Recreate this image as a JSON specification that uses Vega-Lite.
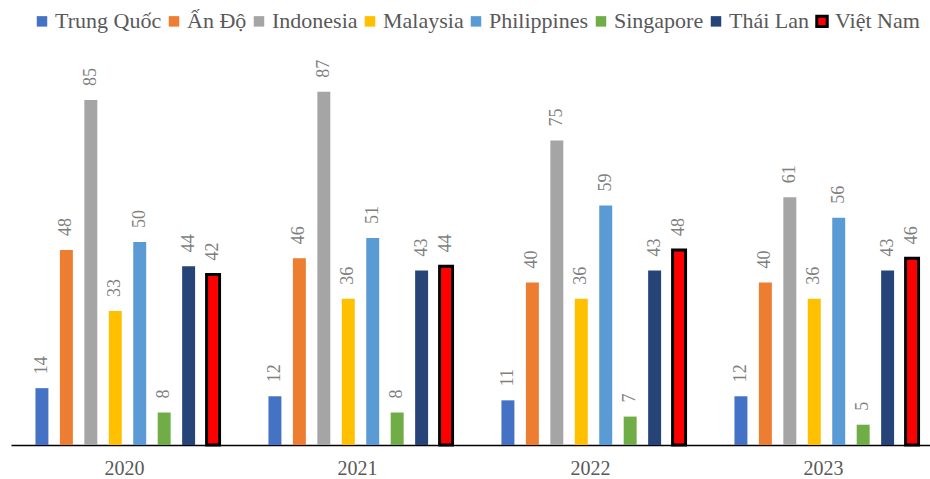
{
  "$schema": "https://vega.github.io/schema/vega-lite/v6.json",
  "autosize": "none",
  "width": 932,
  "height": 406,
  "padding": {"left": 11, "top": 39, "right": 0, "bottom": 34},
  "background": "white",
  "config": {"font": "Liberation Serif", "view": {"stroke": null},
    "text": {"font": "Liberation Serif"},
    "legend": {"labelFont": "Liberation Serif"},
    "axis": {"labelFont": "Liberation Serif"}},
  "data": {"values": [
    {"year": "2020", "country": "Trung Quốc", "value": 14},
    {"year": "2020", "country": "Ấn Độ", "value": 48},
    {"year": "2020", "country": "Indonesia", "value": 85},
    {"year": "2020", "country": "Malaysia", "value": 33},
    {"year": "2020", "country": "Philippines", "value": 50},
    {"year": "2020", "country": "Singapore", "value": 8},
    {"year": "2020", "country": "Thái Lan", "value": 44},
    {"year": "2020", "country": "Việt Nam", "value": 42},
    {"year": "2021", "country": "Trung Quốc", "value": 12},
    {"year": "2021", "country": "Ấn Độ", "value": 46},
    {"year": "2021", "country": "Indonesia", "value": 87},
    {"year": "2021", "country": "Malaysia", "value": 36},
    {"year": "2021", "country": "Philippines", "value": 51},
    {"year": "2021", "country": "Singapore", "value": 8},
    {"year": "2021", "country": "Thái Lan", "value": 43},
    {"year": "2021", "country": "Việt Nam", "value": 44},
    {"year": "2022", "country": "Trung Quốc", "value": 11},
    {"year": "2022", "country": "Ấn Độ", "value": 40},
    {"year": "2022", "country": "Indonesia", "value": 75},
    {"year": "2022", "country": "Malaysia", "value": 36},
    {"year": "2022", "country": "Philippines", "value": 59},
    {"year": "2022", "country": "Singapore", "value": 7},
    {"year": "2022", "country": "Thái Lan", "value": 43},
    {"year": "2022", "country": "Việt Nam", "value": 48},
    {"year": "2023", "country": "Trung Quốc", "value": 12},
    {"year": "2023", "country": "Ấn Độ", "value": 40},
    {"year": "2023", "country": "Indonesia", "value": 61},
    {"year": "2023", "country": "Malaysia", "value": 36},
    {"year": "2023", "country": "Philippines", "value": 56},
    {"year": "2023", "country": "Singapore", "value": 5},
    {"year": "2023", "country": "Thái Lan", "value": 43},
    {"year": "2023", "country": "Việt Nam", "value": 46}
  ]},
  "encoding": {
    "x": {"field": "year", "type": "nominal", "scale": {"paddingInner": 0, "paddingOuter": 0},
      "axis": {"title": null, "labelAngle": 0, "ticks": false, "domainColor": "black", "domainWidth": 1.5,
        "labelFont": "Liberation Serif", "labelFontSize": 20, "labelColor": "#595959", "labelPadding": 13, "labelOffset": -3}},
    "xOffset": {"field": "country", "type": "nominal",
      "sort": ["Trung Quốc", "Ấn Độ", "Indonesia", "Malaysia", "Philippines", "Singapore", "Thái Lan", "Việt Nam"],
      "scale": {"paddingInner": 0.47, "paddingOuter": 1.18}},
    "y": {"field": "value", "type": "quantitative", "scale": {"domain": [0, 100]}, "axis": null}
  },
  "layer": [
    {
      "mark": {"type": "bar"},
      "encoding": {
        "color": {"field": "country", "type": "nominal",
          "sort": ["Trung Quốc", "Ấn Độ", "Indonesia", "Malaysia", "Philippines", "Singapore", "Thái Lan", "Việt Nam"],
          "scale": {"domain": ["Trung Quốc", "Ấn Độ", "Indonesia", "Malaysia", "Philippines", "Singapore", "Thái Lan", "Việt Nam"],
            "range": ["#4472C4", "#ED7D31", "#A5A5A5", "#FFC000", "#5B9BD5", "#70AD47", "#264478", "#FF0000"]},
          "legend": {"title": null, "orient": "none", "direction": "horizontal", "legendX": 20, "legendY": -29,
            "symbolType": "square", "symbolSize": 110, "symbolOpacity": 1, "symbolStrokeWidth": 3,
            "labelFont": "Liberation Serif", "labelFontSize": 22,
            "labelColor": "#595959", "labelOffset": 2, "columnPadding": 0, "padding": 0}},
        "stroke": {"field": "country", "type": "nominal",
          "sort": ["Trung Quốc", "Ấn Độ", "Indonesia", "Malaysia", "Philippines", "Singapore", "Thái Lan", "Việt Nam"],
          "scale": {"domain": ["Trung Quốc", "Ấn Độ", "Indonesia", "Malaysia", "Philippines", "Singapore", "Thái Lan", "Việt Nam"],
            "range": ["transparent", "transparent", "transparent", "transparent", "transparent", "transparent", "transparent", "#000000"]},
          "legend": {"title": null, "orient": "none", "direction": "horizontal", "legendX": 20, "legendY": -29,
            "symbolType": "square", "symbolSize": 110, "symbolOpacity": 1, "symbolStrokeWidth": 3,
            "labelFont": "Liberation Serif", "labelFontSize": 22,
            "labelColor": "#595959", "labelOffset": 2, "columnPadding": 0, "padding": 0}},
        "strokeWidth": {"condition": {"test": "datum.country === 'Việt Nam'", "value": 3}, "value": 0}
      }
    },
    {
      "mark": {"type": "text", "angle": 270, "align": "left", "baseline": "middle", "dx": 14,
        "font": "Liberation Serif", "fontSize": 18, "color": "#7F7F7F"},
      "encoding": {"text": {"field": "value", "type": "quantitative"}}
    }
  ]
}
